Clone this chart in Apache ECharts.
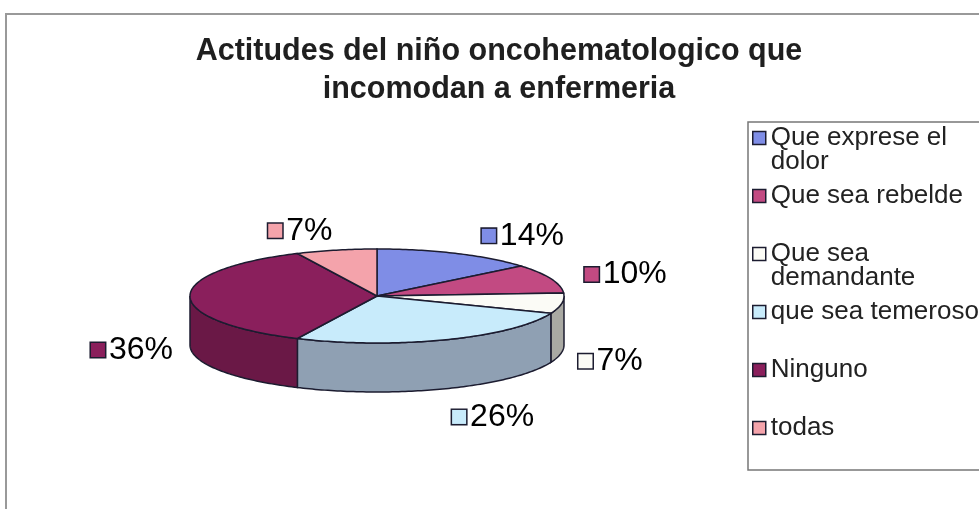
<!DOCTYPE html>
<html lang="es">
<head>
    <meta charset="UTF-8"/>
    <script src="https://cdn.jsdelivr.net/npm/echarts@6/dist/echarts.min.js"></script>
    <title>Actitudes del niño oncohematologico</title>
    <style>
        html, body { margin: 0; padding: 0; background: #fff; }
        #pie { width: 979px; height: 509px; }
    </style>
</head>
<body>
<div id="pie"></div>
<script type="text/javascript">
    // datos
    var categories = ['Que exprese el dolor', 'Que sea rebelde', 'Que sea demandante', 'que sea temeroso', 'Ninguno', 'todas'];
    var percents = [14, 10, 7, 26, 36, 7];

    // colores: cara superior y lateral
    var topColors = ['#7f8de6', '#c24a82', '#fbfbf6', '#c8ebfb', '#8a1f5c', '#f4a3ab'];
    var sideColors = ['#5f6bb0', '#8f3560', '#a9a9a3', '#8fa0b3', '#6a1846', '#b87880'];

    // geometria de la torta 3D
    var CX = 377, CY = 296, RX = 187, RY = 47, DEPTH = 49;
    var GAPX = 17, GAPY = 25, LABEL_DY = 5, BACK_RIGHT_DX = 18;
    var EDGE = '#1c1c30';

    var total = percents.reduce(function (a, b) { return a + b; }, 0);
    var startAngles = [];
    var acc = 0;
    for (var k = 0; k < percents.length; k++) {
        startAngles.push(acc / total * 360);
        acc += percents[k];
    }

    function pt(deg, dy) {
        var r = deg * Math.PI / 180;
        return [CX + RX * Math.sin(r), CY - RY * Math.cos(r) + (dy || 0)];
    }
    function arc(a0, a1, dy) {
        var pts = [];
        var n = Math.max(2, Math.ceil(a1 - a0));
        for (var j = 0; j <= n; j++) {
            pts.push(pt(a0 + (a1 - a0) * j / n, dy));
        }
        return pts;
    }

    // corta el texto de la leyenda en dos lineas, con una linea vacia arriba
    // para que la primera linea quede a la altura del cuadrito
    function wrapLegend(name) {
        var words = name.split(' ');
        var lines = [''];
        words.forEach(function (w) {
            var last = lines[lines.length - 1];
            if (last && (last + ' ' + w).length > 16) lines.push(w);
            else lines[lines.length - 1] = last ? last + ' ' + w : w;
        });
        while (lines.length < 2) lines.push('');
        return '\n' + lines.join('\n');
    }

    function makeRender(i) {
        return function (params, api) {
            var val = api.value(0);
            var a0 = startAngles[i];
            var a1 = a0 + val / total * 360;
            var children = [];
            // lateral (solo la mitad delantera es visible)
            if (a1 > 90 && a0 < 270) {
                var s = Math.max(a0, 90), e = Math.min(a1, 270);
                var side = arc(s, e, 0).concat(arc(s, e, DEPTH).reverse());
                children.push({
                    type: 'polygon',
                    shape: { points: side },
                    style: { fill: sideColors[i], stroke: EDGE, lineWidth: 1.5 }
                });
            }
            // cara superior
            children.push({
                type: 'polygon',
                shape: { points: [[CX, CY]].concat(arc(a0, a1, 0)) },
                style: { fill: topColors[i], stroke: EDGE, lineWidth: 1.5 }
            });
            // etiqueta
            var mid = (a0 + a1) / 2;
            var rad = mid * Math.PI / 180;
            var sn = Math.sin(rad), cs = Math.cos(rad);
            var p = pt(mid, cs < 0.1 ? DEPTH : 0);
            var dx = GAPX * sn + (sn > 0 && cs > 0 ? BACK_RIGHT_DX : 0);
            children.push({
                type: 'text',
                x: p[0] + dx,
                y: p[1] - GAPY * cs + LABEL_DY,
                style: {
                    text: '{sq|}{v|' + Math.round(val / total * 100) + '%}',
                    align: sn >= 0 ? 'left' : 'right',
                    verticalAlign: 'middle',
                    rich: {
                        sq: { width: 14, height: 14, backgroundColor: topColors[i], borderColor: EDGE, borderWidth: 1.5 },
                        v: { fontSize: 32, fontFamily: 'Liberation Sans', color: '#222', padding: [0, 0, 0, 4] }
                    }
                }
            });
            return { type: 'group', children: children };
        };
    }

    var series = [];
    for (var i = 0; i < categories.length; i++) {
        series.push({
            name: categories[i],
            type: 'custom',
            coordinateSystem: 'none',
            itemStyle: { color: topColors[i] },
            data: [[percents[i]]],
            renderItem: makeRender(i)
        });
    }

    var myChart = echarts.init(document.getElementById('pie'));
    var option = {
        backgroundColor: '#fff',
        animation: false,
        title: {
            text: 'Actitudes del niño oncohematologico que\nincomodan a enfermeria',
            left: 499,
            top: 33,
            padding: 0,
            textAlign: 'center',
            textStyle: { fontFamily: 'Liberation Sans', fontSize: 30.5, fontWeight: 'bold', color: '#1f1f1f', lineHeight: 38 }
        },
        legend: {
            orient: 'vertical',
            left: 748,
            top: 101,
            padding: [0, 0, 0, 4],
            itemGap: -16,
            itemWidth: 13,
            itemHeight: 13,
            icon: 'rect',
            selectedMode: false,
            itemStyle: { borderColor: EDGE, borderWidth: 1.5 },
            formatter: wrapLegend,
            textStyle: { fontFamily: 'Liberation Sans', fontSize: 26, color: '#222', lineHeight: 24 },
            data: categories
        },
        graphic: [
            { type: 'polyline', shape: { points: [[6, 509], [6, 14], [979, 14]] }, style: { stroke: '#999', lineWidth: 2, fill: null } },
            { type: 'rect', shape: { x: 748, y: 122, width: 260, height: 348 }, style: { stroke: '#777', lineWidth: 1.5, fill: null } }
        ],
        series: series
    };
    myChart.setOption(option);
</script>
</body>
</html>
